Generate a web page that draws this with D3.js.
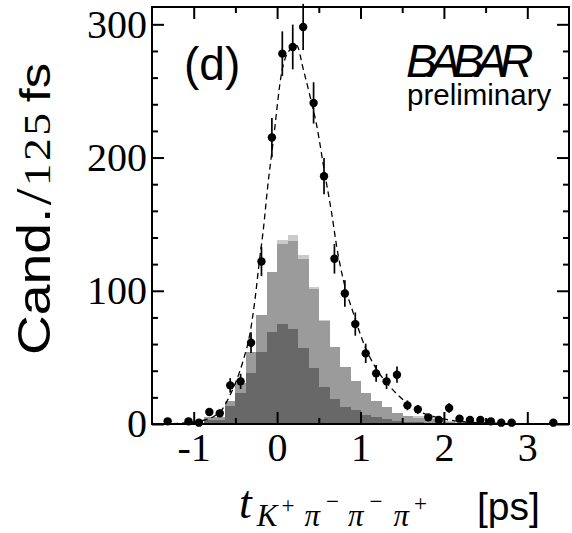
<!DOCTYPE html>
<html>
<head>
<meta charset="utf-8">
<script src="https://cdn.jsdelivr.net/npm/d3@7"></script>
<style>
  html, body { margin: 0; padding: 0; background: #fff; }
  svg { display: block; }
</style>
</head>
<body>
<svg id="chart" width="572" height="533"></svg>
<script>
// ---------------- data ----------------
// histogram bins (left edges, ps); bin width 0.125 ps
const binWidth = 0.125;
const binLeft = [-0.875, -0.75, -0.625, -0.5, -0.375, -0.25, -0.125, 0, 0.125, 0.25,
                 0.375, 0.5, 0.625, 0.75, 0.875, 1.0, 1.125, 1.25, 1.375, 1.5,
                 1.625, 1.75, 1.875, 2.0, 2.125, 2.25, 2.375, 2.5, 2.625, 2.75];
const histLight = [5, 5, 17, 31, 54, 82, 114, 138, 142, 127,
                   103, 78, 58, 43, 32, 23, 17, 12.5, 8, 6,
                   6, 6, 4, 2, 1.5, 1.5, 1.5, 1.5, 1, 1];
const histMedium = [5, 5, 17, 31, 54, 82, 114, 135, 137, 124,
                    101, 77, 58, 43, 32, 23, 17, 12.5, 8, 6,
                    4.5, 3.5, 2.5, 1.5, 1, 1, 0.5, 0.5, 0, 0];
const histDark = [3, 3, 13.5, 23, 38, 54, 69, 75, 71, 57,
                  42, 28, 19, 12.5, 10.5, 7, 5, 3.5, 2.5, 1.7,
                  1.2, 1, 0.5, 0.5, 0, 0, 0, 0, 0, 0];

// data points (bin centres, counts, errors)
const ptX = [-1.3125, -1.0625, -0.9375, -0.8125, -0.6875, -0.5625, -0.4375, -0.3125, -0.1875, -0.0625,
             0.0625, 0.1875, 0.3125, 0.4375, 0.5625, 0.6875, 0.8125, 0.9375, 1.0625, 1.1875,
             1.3125, 1.4375, 1.5625, 1.6875, 1.8125, 1.9375, 2.0625, 2.1875, 2.3125, 2.4375,
             2.5625, 2.6875, 2.8125, 3.3125];
const ptY = [2, 2, 1, 9, 8, 29, 32, 61, 122, 215,
             278, 283, 298, 241, 186, 124, 98, 75, 53, 38,
             32, 37, 14, 11, 5, 3, 12, 4, 3, 3,
             2, 1, 1, 1];
const ptErr = [1.4, 1.4, 1, 3, 2.8, 5.4, 5.7, 7.8, 11, 14.7,
               16.7, 16.8, 17.3, 15.5, 13.6, 11.1, 9.9, 8.7, 7.3, 6.2,
               5.7, 6.1, 3.7, 3.3, 2.2, 1.7, 3.5, 2, 1.7, 1.7,
               1.4, 1, 1, 1];

// fit curve
const fitX = [-1.5, -1.25, -1.0, -0.875, -0.75, -0.664, -0.573, -0.485, -0.405, -0.325,
              -0.266, -0.213, -0.165, -0.113, -0.045, 0.055, 0.155, 0.235, 0.315, 0.395,
              0.475, 0.574, 0.655, 0.715, 0.795, 0.915, 1.054, 1.194, 1.354, 1.514,
              1.674, 1.914, 2.23, 2.5, 3.0, 3.5];
const fitY = [0, 0.3, 1.5, 3, 6, 10.5, 20.5, 33, 48, 68,
              93, 122, 146, 178, 213, 264, 281, 284, 266, 246,
              224, 187, 158, 133, 108, 83, 58, 41, 28, 18,
              10.5, 5, 1.7, 0.8, 0.1, 0];

const xMajorTicks = [-1, 0, 1, 2, 3];
const xTickLabels = ["-1", "0", "1", "2", "3"];
const xMinorTicks = [-0.5, 0.5, 1.5, 2.5];
const yMajorTicks = [0, 100, 200, 300];
const yTickLabels = ["0", "100", "200", "300"];
const yMinorTicks = [20, 40, 60, 80, 120, 140, 160, 180, 220, 240, 260, 280];

// ---------------- layout ----------------
const svg = d3.select("#chart");
const m = { left: 152, top: 7, right: 3, bottom: 109 };
const W = 572 - m.left - m.right;   // 417
const H = 533 - m.top - m.bottom;   // 417

const x = d3.scaleLinear().domain([-1.5, 3.5]).range([0, W]);
const y = d3.scaleLinear().domain([0, 313]).range([H, 0]);

const g = svg.append("g").attr("transform", `translate(${m.left},${m.top})`);

// histograms (back to front)
function drawHist(vals, color) {
  g.append("g").selectAll("rect")
    .data(binLeft.map((b, i) => ({ b, v: vals[i] })).filter(d => d.v > 0))
    .join("rect")
    .attr("x", d => x(d.b))
    .attr("width", d => x(d.b + binWidth) - x(d.b) + 0.5)
    .attr("y", d => y(d.v))
    .attr("height", d => y(0) - y(d.v))
    .attr("fill", color)
    .attr("shape-rendering", "crispEdges");
}
drawHist(histLight, "#cbcbcb");
drawHist(histMedium, "#9b9b9b");
drawHist(histDark, "#686868");

// fit curve
const line = d3.line()
  .x((d, i) => x(fitX[i]))
  .y(d => y(d))
  .curve(d3.curveMonotoneX);
g.append("path")
  .attr("d", line(fitY))
  .attr("fill", "none")
  .attr("stroke", "#000")
  .attr("stroke-width", 1.3)
  .attr("stroke-dasharray", "6,4");

// data points with error bars
const pts = ptX.map((px, i) => ({ x: px, v: ptY[i], e: ptErr[i] }));
g.append("g").selectAll("line")
  .data(pts)
  .join("line")
  .attr("x1", d => x(d.x)).attr("x2", d => x(d.x))
  .attr("y1", d => y(Math.max(0, d.v - d.e)))
  .attr("y2", d => y(d.v + d.e))
  .attr("stroke", "#000")
  .attr("stroke-width", 1.7);
g.append("g").selectAll("circle")
  .data(pts)
  .join("circle")
  .attr("cx", d => x(d.x))
  .attr("cy", d => y(d.v))
  .attr("r", 4.2)
  .attr("fill", "#000");

// axes (ticks inward on all four sides)
const tickFont = "'Liberation Serif', 'DejaVu Serif', serif";
function styleAxis(sel) {
  sel.select(".domain").remove();
  sel.selectAll(".tick line").attr("stroke", "#000").attr("stroke-width", 2);
  sel.selectAll("text").attr("fill", "#000").style("font-family", tickFont).style("font-size", "40px");
}
// bottom
g.append("g").attr("transform", `translate(0,${H})`)
  .call(d3.axisBottom(x).tickValues(xMajorTicks).tickSize(-12).tickPadding(9)
        .tickFormat((d, i) => xTickLabels[i]))
  .call(styleAxis);
g.append("g").attr("transform", `translate(0,${H})`)
  .call(d3.axisBottom(x).tickValues(xMinorTicks).tickSize(-6).tickFormat(""))
  .call(styleAxis);
// top
g.append("g")
  .call(d3.axisTop(x).tickValues(xMajorTicks).tickSize(-12).tickFormat(""))
  .call(styleAxis);
g.append("g")
  .call(d3.axisTop(x).tickValues(xMinorTicks).tickSize(-6).tickFormat(""))
  .call(styleAxis);
// left
g.append("g")
  .call(d3.axisLeft(y).tickValues(yMajorTicks).tickSize(-12).tickPadding(5)
        .tickFormat((d, i) => yTickLabels[i]))
  .call(styleAxis);
g.append("g")
  .call(d3.axisLeft(y).tickValues(yMinorTicks).tickSize(-6).tickFormat(""))
  .call(styleAxis);
// right
g.append("g").attr("transform", `translate(${W},0)`)
  .call(d3.axisRight(y).tickValues(yMajorTicks).tickSize(-12).tickFormat(""))
  .call(styleAxis);
g.append("g").attr("transform", `translate(${W},0)`)
  .call(d3.axisRight(y).tickValues(yMinorTicks).tickSize(-6).tickFormat(""))
  .call(styleAxis);

// frame
g.append("rect")
  .attr("x", 0).attr("y", 0).attr("width", W).attr("height", H)
  .attr("fill", "none").attr("stroke", "#000").attr("stroke-width", 2);

// ---------------- texts ----------------
const sans = "'Liberation Sans', Arial, Helvetica, sans-serif";
const serif = "'Liberation Serif', 'DejaVu Serif', serif";

// panel label
svg.append("text")
  .attr("x", 184).attr("y", 80)
  .style("font-family", sans).style("font-size", "46px")
  .text("(d)");

// BABAR logo
svg.append("text")
  .attr("x", 406).attr("y", 77)
  .style("font-family", sans).style("font-size", "47px").style("font-style", "italic")
  .style("letter-spacing", "-8px")
  .text("BABAR");
svg.append("text")
  .attr("x", 407).attr("y", 105)
  .style("font-family", sans).style("font-size", "29.5px")
  .text("preliminary");

// y axis title
const yt = svg.append("text")
  .attr("transform", "translate(50,355) rotate(-90) scale(1.2,1)")
  .attr("fill", "#000");
yt.append("tspan").style("font-family", sans).style("font-size", "46px").text("Cand.");
yt.append("tspan").style("font-family", serif).style("font-size", "50px").attr("dx", 2).text("/");
yt.append("tspan").style("font-family", serif).style("font-size", "38px").style("letter-spacing", "2px").attr("dx", 2).text("125");
yt.append("tspan").style("font-family", sans).style("font-size", "42px").attr("dx", 7).text("fs");

// x axis title
const xt = svg.append("text").attr("x", 239).attr("y", 518)
  .style("font-family", serif).attr("fill", "#000");
xt.append("tspan").style("font-size", "46px").style("font-style", "italic").text("t");
xt.append("tspan").attr("dx", 5).attr("dy", 8).style("font-size", "31px").style("font-style", "italic").text("K");
xt.append("tspan").attr("dx", 4).attr("dy", -13).style("font-size", "23px").text("+");
xt.append("tspan").attr("dx", 10).attr("dy", 13).style("font-size", "31px").style("font-style", "italic").text("π");
xt.append("tspan").attr("dx", 6).attr("dy", -17).style("font-size", "23px").text("−");
xt.append("tspan").attr("dx", 9).attr("dy", 17).style("font-size", "31px").style("font-style", "italic").text("π");
xt.append("tspan").attr("dx", 6).attr("dy", -17).style("font-size", "23px").text("−");
xt.append("tspan").attr("dx", 11).attr("dy", 17).style("font-size", "31px").style("font-style", "italic").text("π");
xt.append("tspan").attr("dx", 5).attr("dy", -15).style("font-size", "23px").text("+");
svg.append("text").attr("x", 477).attr("y", 520)
  .style("font-family", sans).style("font-size", "39px")
  .text("[ps]");
</script>
</body>
</html>
